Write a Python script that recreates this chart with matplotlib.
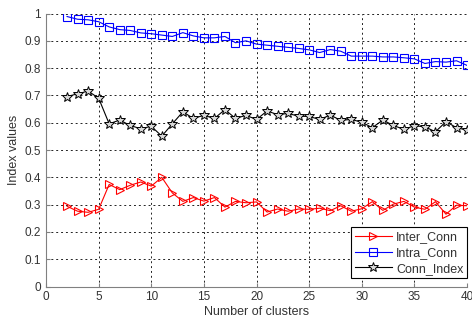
import numpy as np
import matplotlib
matplotlib.use("Agg")
import matplotlib.pyplot as plt

plt.rcParams['font.family'] = ['Liberation Sans', 'DejaVu Sans']

# Number of clusters
clusters = list(range(2, 41))

inter_conn = [0.294, 0.276, 0.272, 0.283, 0.374, 0.355, 0.371, 0.383, 0.368, 0.400,
              0.343, 0.312, 0.326, 0.313, 0.326, 0.291, 0.312, 0.307, 0.310, 0.273,
              0.284, 0.276, 0.284, 0.283, 0.287, 0.278, 0.296, 0.276, 0.285, 0.311,
              0.279, 0.302, 0.312, 0.291, 0.283, 0.311, 0.265, 0.298, 0.296]

intra_conn = [0.989, 0.979, 0.977, 0.970, 0.951, 0.941, 0.938, 0.929, 0.926, 0.921,
              0.916, 0.930, 0.918, 0.911, 0.911, 0.916, 0.893, 0.900, 0.888, 0.884,
              0.880, 0.876, 0.872, 0.867, 0.857, 0.868, 0.862, 0.844, 0.844, 0.844,
              0.841, 0.841, 0.838, 0.834, 0.817, 0.824, 0.822, 0.827, 0.810]

conn_index = [0.696, 0.706, 0.716, 0.690, 0.596, 0.610, 0.590, 0.578, 0.587, 0.551,
              0.596, 0.640, 0.616, 0.627, 0.616, 0.648, 0.616, 0.627, 0.612, 0.643,
              0.630, 0.634, 0.624, 0.623, 0.612, 0.628, 0.609, 0.612, 0.602, 0.582,
              0.610, 0.590, 0.576, 0.589, 0.585, 0.567, 0.604, 0.582, 0.573]

fig = plt.figure(figsize=(4.72, 3.22), dpi=100)
ax = fig.add_axes([0.0975, 0.11, 0.892, 0.848])

ax.plot(clusters, inter_conn, color='red', marker='>', markersize=5.5,
        markerfacecolor='none', markeredgewidth=0.8, linewidth=0.8, label='Inter_Conn')
ax.plot(clusters, intra_conn, color='blue', marker='s', markersize=5.5,
        markerfacecolor='none', markeredgewidth=0.8, linewidth=0.8, label='Intra_Conn')
ax.plot(clusters, conn_index, color='black', marker='*', markersize=7.5,
        markerfacecolor='#d9d9d9', markeredgewidth=0.7, linewidth=0.8, label='Conn_Index')

ax.set_xlim(0, 40)
ax.set_ylim(0, 1)
ax.set_xticks(np.arange(0, 41, 5))
ax.set_yticks(np.arange(0, 1.01, 0.1))
ax.set_yticklabels(['0', '0.1', '0.2', '0.3', '0.4', '0.5', '0.6', '0.7', '0.8', '0.9', '1'])

ax.grid(True, color='#222222', linestyle=(0, (2, 3)), linewidth=0.7)
for side in ['top', 'right']:
    ax.spines[side].set_visible(False)
for side in ['left', 'bottom']:
    ax.spines[side].set_color('#808080')
ax.tick_params(direction='in', length=3, color='#808080', labelsize=8.5,
               labelcolor='#333333')

ax.set_xlabel('Number of clusters', fontsize=9, color='#333333', labelpad=2)
ax.set_ylabel('Index values', fontsize=9, color='#333333', labelpad=3)

leg = ax.legend(loc='lower right', bbox_to_anchor=(1.0, 0.03), fontsize=9,
                fancybox=False, framealpha=1, edgecolor='black', handlelength=3,
                borderpad=0.3, labelspacing=0.3, handletextpad=0.3, borderaxespad=0)
leg.get_frame().set_linewidth(0.8)
for t in leg.get_texts():
    t.set_color('#333333')

fig.savefig('out.png', dpi=100)
